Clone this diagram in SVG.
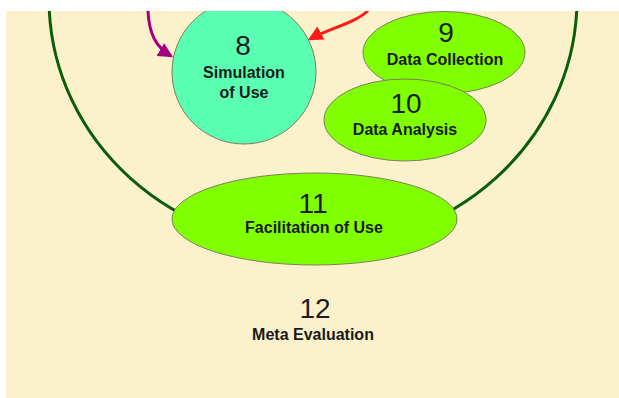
<svg xmlns="http://www.w3.org/2000/svg" width="619" height="398" viewBox="0 0 619 398">
  <defs>
    <style>
      .node { stroke: #7d7d5c; stroke-width: 1; }
      .mint { fill: #5bffb2; }
      .lime { fill: #80ff00; }
      .num { font-family: "Liberation Sans", Arial, sans-serif; font-size: 28px; fill: #1c1c26; text-anchor: middle; }
      .lbl { font-family: "Liberation Sans", Arial, sans-serif; font-size: 16px; font-weight: bold; fill: #1a1a1a; text-anchor: middle; }
      .conn { fill: none; stroke-width: 3; }
    </style>
    <marker id="headM" viewBox="0 0 12 12" refX="10" refY="6" markerWidth="15" markerHeight="15" markerUnits="userSpaceOnUse" orient="auto">
      <path d="M0,0 L12,6 L0,12 z" fill="#a3007f"/>
    </marker>
    <marker id="headR" viewBox="0 0 12 12" refX="10" refY="6" markerWidth="15" markerHeight="15" markerUnits="userSpaceOnUse" orient="auto">
      <path d="M0,0 L12,6 L0,12 z" fill="#ff1a1a"/>
    </marker>
  </defs>

  <rect x="0" y="0" width="619" height="398" fill="#ffffff"/>
  <rect x="6" y="11" width="613" height="387" fill="#fbf2cc"/>

  <g id="boundary">
    <path d="M49.3,11 A264,248 0 0 0 576.7,11" fill="none" stroke="#0b5c0b" stroke-width="3"/>
  </g>

  <g id="connectors">
    <path class="conn" d="M148,11 C149,34 156,47 171,56" stroke="#a3007f" marker-end="url(#headM)"/>
    <path class="conn" d="M370,8 C360,22 330,28 310,39" stroke="#ff1a1a" marker-end="url(#headR)"/>
  </g>

  <g id="node8">
    <circle class="node mint" cx="244" cy="72" r="72"/>
    <text class="num" x="243" y="55">8</text>
    <text class="lbl" x="244" y="78">Simulation</text>
    <text class="lbl" x="244" y="98">of Use</text>
  </g>

  <g id="node9">
    <ellipse class="node lime" cx="444" cy="52.5" rx="81" ry="41"/>
    <text class="num" x="446" y="42">9</text>
    <text class="lbl" x="445" y="65">Data Collection</text>
  </g>

  <g id="node10">
    <ellipse class="node lime" cx="405" cy="120" rx="81" ry="41"/>
    <text class="num" x="406" y="113">10</text>
    <text class="lbl" x="405" y="135">Data Analysis</text>
  </g>

  <g id="node11">
    <ellipse class="node lime" cx="314.5" cy="219" rx="142.5" ry="46"/>
    <text class="num" x="313" y="213">11</text>
    <text class="lbl" x="314" y="233">Facilitation of Use</text>
  </g>

  <g id="node12">
    <text class="num" x="315" y="318">12</text>
    <text class="lbl" x="313" y="340">Meta Evaluation</text>
  </g>

  <rect x="0" y="0" width="619" height="11" fill="#ffffff"/>
</svg>
